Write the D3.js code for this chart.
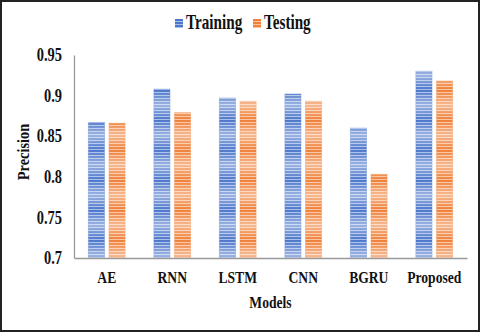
<!DOCTYPE html>
<html>
<head>
<meta charset="utf-8">
<script src="https://cdn.jsdelivr.net/npm/d3@7"></script>
<style>
  body { margin: 0; background: #fff; }
  text { font-family: "Liberation Serif", "Times New Roman", serif; font-weight: bold; fill: #111; }
</style>
</head>
<body>
<script>
const models = ["AE", "RNN", "LSTM", "CNN", "BGRU", "Proposed"];
const series = ["Training", "Testing"];
const training = [0.867, 0.908, 0.897, 0.902, 0.860, 0.930];
const testing = [0.866, 0.879, 0.893, 0.893, 0.803, 0.918];
const yTicks = [0.7, 0.75, 0.8, 0.85, 0.9, 0.95];

const width = 480,
  height = 332,
  margin = { top: 55, right: 13, bottom: 74, left: 74 };

// the reference type is a narrow, tall serif
const squeeze = 0.8;

const svg = d3
  .select("body")
  .append("svg")
  .attr("width", width)
  .attr("height", height);

const defs = svg.append("defs");

// striped fill like the reference's banded bars
const makePattern = (id, dark, light) => {
  const p = defs
    .append("pattern")
    .attr("id", id)
    .attr("patternUnits", "userSpaceOnUse")
    .attr("width", 4)
    .attr("height", 3);
  p.append("rect").attr("width", 4).attr("height", 3).attr("fill", dark);
  p.append("rect").attr("y", 2).attr("width", 4).attr("height", 1).attr("fill", light);
};
makePattern("pat-train", "#4d77cb", "#a9bfe8");
makePattern("pat-test", "#ef8139", "#f8c3a0");

const bands = defs
  .append("pattern")
  .attr("id", "bands")
  .attr("patternUnits", "userSpaceOnUse")
  .attr("width", 4)
  .attr("height", 30);
const bg = defs
  .append("linearGradient")
  .attr("id", "band-grad")
  .attr("x1", 0).attr("y1", 0).attr("x2", 0).attr("y2", 1);
bg.append("stop").attr("offset", "0%").attr("stop-color", "#fff").attr("stop-opacity", 0);
bg.append("stop").attr("offset", "50%").attr("stop-color", "#fff").attr("stop-opacity", 0.45);
bg.append("stop").attr("offset", "100%").attr("stop-color", "#fff").attr("stop-opacity", 0);
bands.append("rect").attr("width", 4).attr("height", 30).attr("fill", "url(#band-grad)");

const color = d3.scaleOrdinal().domain(series).range(["url(#pat-train)", "url(#pat-test)"]);
const swatch = d3.scaleOrdinal().domain(series).range(["#4a74c9", "#ee7f35"]);

const x = d3
  .scaleBand()
  .domain(models)
  .range([margin.left, width - margin.right])
  .paddingInner(0.44)
  .paddingOuter(0.22);

const xInner = d3
  .scaleBand()
  .domain(series)
  .range([0, x.bandwidth()])
  .paddingInner(0.22);

const y = d3
  .scaleLinear()
  .domain([0.7, 0.95])
  .range([height - margin.bottom, margin.top]);

const rows = models.map((m, i) => ({
  model: m,
  values: [
    { key: "Training", value: training[i] },
    { key: "Testing", value: testing[i] }
  ]
}));

const group = svg
  .selectAll("g.model")
  .data(rows)
  .enter()
  .append("g")
  .attr("class", "model")
  .attr("transform", d => `translate(${x(d.model)},0)`);

const bar = group
  .selectAll("g.bar")
  .data(d => d.values)
  .enter()
  .append("g")
  .attr("class", "bar");

bar
  .append("rect")
  .attr("x", d => xInner(d.key))
  .attr("y", d => y(d.value))
  .attr("width", xInner.bandwidth())
  .attr("height", d => y(0.7) - y(d.value))
  .attr("fill", d => color(d.key))
  .attr("stroke", d => swatch(d.key))
  .attr("stroke-opacity", 0.35)
  .attr("stroke-width", 1);

bar
  .append("rect")
  .attr("x", d => xInner(d.key))
  .attr("y", d => y(d.value))
  .attr("width", xInner.bandwidth())
  .attr("height", d => y(0.7) - y(d.value))
  .attr("fill", "url(#bands)");

// axes
const yAxis = svg
  .append("g")
  .attr("transform", `translate(${margin.left},0)`)
  .call(d3.axisLeft(y).tickValues(yTicks).tickSize(0).tickPadding(15).tickFormat(d3.format("~g")));
yAxis.select(".domain").attr("stroke", "#999").attr("stroke-width", 1.3);
yAxis
  .selectAll("text")
  .style("font-size", "18px")
  .attr("transform", `scale(${squeeze},1)`);

const xAxis = svg
  .append("g")
  .attr("transform", `translate(0,${height - margin.bottom})`)
  .call(d3.axisBottom(x).tickSize(0).tickPadding(13));
xAxis.select(".domain").attr("stroke", "#999").attr("stroke-width", 1.3);
xAxis
  .selectAll("text")
  .style("font-size", "17px")
  .attr("transform", `scale(${squeeze},1)`);

svg
  .append("text")
  .attr("transform", `translate(${(margin.left + width - margin.right) / 2},308) scale(${squeeze},1)`)
  .attr("text-anchor", "middle")
  .style("font-size", "17px")
  .text("Models");

svg
  .append("text")
  .attr("transform", `translate(29,152) rotate(-90) scale(0.9,1)`)
  .attr("text-anchor", "middle")
  .style("font-size", "16px")
  .text("Precision");

// legend
const legendX = [175, 253];
const legend = svg
  .selectAll("g.legend")
  .data(series)
  .enter()
  .append("g")
  .attr("class", "legend")
  .attr("transform", (d, i) => `translate(${legendX[i]},19)`);

legend
  .append("rect")
  .attr("width", 8)
  .attr("height", 9)
  .attr("fill", d => color(d));

legend
  .append("text")
  .attr("transform", "translate(11,10) scale(0.76,1)")
  .style("font-size", "20px")
  .text(d => d);

// frame
svg
  .append("rect")
  .attr("x", 1)
  .attr("y", 1)
  .attr("width", width - 2)
  .attr("height", height - 2)
  .attr("fill", "none")
  .attr("stroke", "#222")
  .attr("stroke-width", 2);
</script>
</body>
</html>
